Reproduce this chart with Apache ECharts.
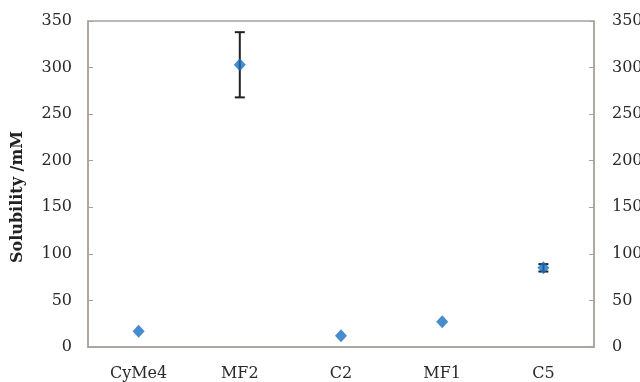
<!DOCTYPE html>
<html>
<head>
<meta charset="utf-8">
<script src="https://cdn.jsdelivr.net/npm/echarts@6/dist/echarts.min.js"></script>
<style>
html,body{margin:0;padding:0;background:#fff;}
#chart{width:640px;height:382px;}
</style>
</head>
<body>
<div id="chart"></div>
<script>
var categories = ['CyMe4', 'MF2', 'C2', 'MF1', 'C5'];
var solubility = [17, 303, 12, 27, 85];
var errLow = [null, 268, null, null, 81];
var errHigh = [null, 338, null, null, 89];
var yTicks = [0, 50, 100, 150, 200, 250, 300, 350];

var myChart = echarts.init(document.getElementById('chart'));

// error bars only where they exist
var errData = [];
for (var i = 0; i < categories.length; i++) {
	if (errLow[i] != null) errData.push([i, errLow[i], errHigh[i]]);
}

var lineCol = '#a9a29c';
var txt = {fontFamily: 'DejaVu Serif', fontSize: 16, color: '#2a2a2a'};

var option = {
	animation: false,
	grid: {left: 88, right: 46, top: 21, bottom: 35, show: true, borderColor: lineCol, borderWidth: 1.5, outerBoundsMode: 'none', containLabel: false},
	xAxis: {
		type: 'category',
		data: categories,
		axisLine: {lineStyle: {color: lineCol, width: 1.5}},
		axisTick: {inside: true, length: 5, lineStyle: {color: lineCol}},
		axisLabel: Object.assign({margin: 19}, txt)
	},
	yAxis: [
		{
			type: 'value', min: 0, max: yTicks[yTicks.length - 1], interval: 50,
			name: 'Solubility /mM', nameLocation: 'middle', nameGap: 62,
			nameTextStyle: {fontFamily: 'DejaVu Serif', fontSize: 16, fontWeight: 'bold', color: '#222', padding: [0, 26, 0, 0]},
			axisLine: {show: true, lineStyle: {color: lineCol, width: 1.5}},
			axisTick: {show: true, inside: true, length: 5, lineStyle: {color: lineCol}},
			splitLine: {show: false},
			axisLabel: Object.assign({margin: 16}, txt)
		},
		{
			type: 'value', position: 'right', min: 0, max: yTicks[yTicks.length - 1], interval: 50,
			axisLine: {show: true, lineStyle: {color: lineCol, width: 1.5}},
			axisTick: {show: true, inside: true, length: 5, lineStyle: {color: lineCol}},
			splitLine: {show: false},
			axisLabel: Object.assign({margin: 18}, txt)
		}
	],
	series: [
		{
			type: 'custom',
			data: errData,
			z: 1,
			renderItem: function (params, api) {
				var x = api.value(0);
				var lo = api.coord([x, api.value(1)]);
				var hi = api.coord([x, api.value(2)]);
				var w = 5;
				var st = {stroke: '#222', lineWidth: 2};
				return {
					type: 'group',
					children: [
						{type: 'line', shape: {x1: lo[0], y1: lo[1], x2: hi[0], y2: hi[1]}, style: st},
						{type: 'line', shape: {x1: lo[0] - w, y1: lo[1], x2: lo[0] + w, y2: lo[1]}, style: st},
						{type: 'line', shape: {x1: hi[0] - w, y1: hi[1], x2: hi[0] + w, y2: hi[1]}, style: st}
					]
				};
			}
		},
		{
			type: 'scatter',
			data: solubility,
			z: 3,
			symbol: 'diamond',
			symbolSize: [12, 13],
			itemStyle: {color: '#1a6fc0'}
		}
	]
};
myChart.setOption(option);
</script>
</body>
</html>
